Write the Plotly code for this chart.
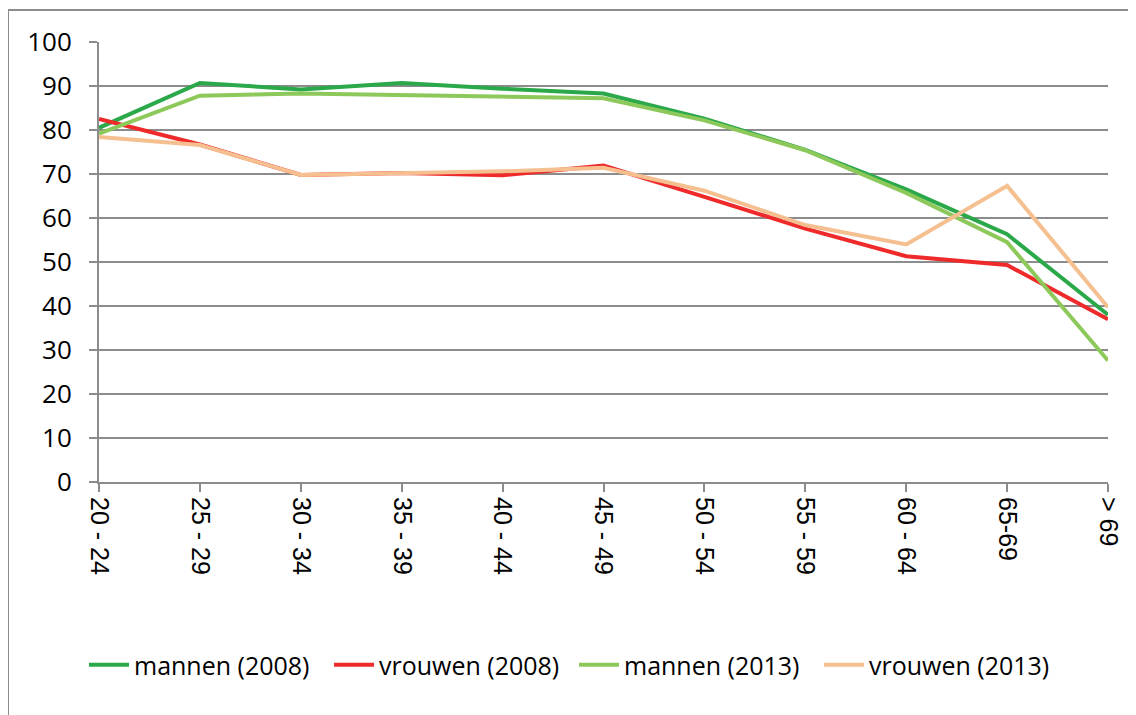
import plotly.graph_objects as go

categories = ["20 - 24", "25 - 29", "30 - 34", "35 - 39", "40 - 44", "45 - 49",
              "50 - 54", "55 - 59", "60 - 64", "65-69", "> 69"]
mannen_2008 = [80.5, 90.7, 89.2, 90.7, 89.4, 88.3, 82.6, 75.5, 66.5, 56.3, 38.0]
vrouwen_2008 = [82.5, 76.7, 69.8, 70.2, 69.7, 71.9, 64.8, 57.6, 51.3, 49.3, 37.0]
mannen_2013 = [79.2, 87.8, 88.3, 87.9, 87.7, 87.2, 82.2, 75.4, 65.7, 54.5, 27.6]
vrouwen_2013 = [78.4, 76.6, 69.8, 70.3, 70.6, 71.4, 66.2, 58.4, 54.0, 67.3, 39.7]

series = [
    ("mannen (2008)", mannen_2008, "#2BA84A"),
    ("vrouwen (2008)", vrouwen_2008, "#EE2A2A"),
    ("mannen (2013)", mannen_2013, "#8DC85A"),
    ("vrouwen (2013)", vrouwen_2013, "#F5BF8F"),
]

fig = go.Figure()
for name, vals, col in series:
    fig.add_trace(go.Scatter(x=categories, y=vals, mode="lines", name=name,
                             line=dict(color=col, width=4)))

# page body has an 8px margin, so figure coordinates are shifted by 8px
W, H = 1128, 707
L, R, T, B = 91, 28, 34, 233
pw, ph = W - L - R, H - T - B

def px(x):
    return (x - L) / pw

def py(y):
    return (H - B - y) / ph

fig.update_layout(
    width=W, height=H,
    margin=dict(l=L, r=R, t=T, b=B),
    paper_bgcolor="white", plot_bgcolor="white",
    showlegend=True,
    legend=dict(orientation="h", xref="container", yref="container",
                x=76 / W, y=1 - 657 / H, xanchor="left", yanchor="middle",
                font=dict(family="Open Sans", size=25, color="black"),
                itemwidth=40, entrywidth=190, entrywidthmode="pixels"),
    xaxis=dict(range=[0, 10], tickangle=90, showgrid=False,
               showline=True, linecolor="#8C8C8C", linewidth=2,
               ticks="outside", ticklen=8, tickwidth=2, tickcolor="#8C8C8C",
               tickfont=dict(family="Liberation Sans", size=25, color="black")),
    yaxis=dict(range=[0, 100], dtick=10, showgrid=True, gridcolor="#8C8C8C",
               gridwidth=2, zeroline=False,
               showline=True, linecolor="#8C8C8C", linewidth=2,
               ticks="outside", ticklen=8, tickwidth=2, tickcolor="#8C8C8C",
               ticklabelstandoff=12,
               tickfont=dict(family="Open Sans", size=26, color="black")),
    shapes=[dict(type="rect", xref="paper", yref="paper",
                 x0=px(0), x1=px(1140), y0=py(720), y1=py(2),
                 line=dict(color="#8C8C8C", width=2), layer="below")],
)

fig.write_html("out.html")
